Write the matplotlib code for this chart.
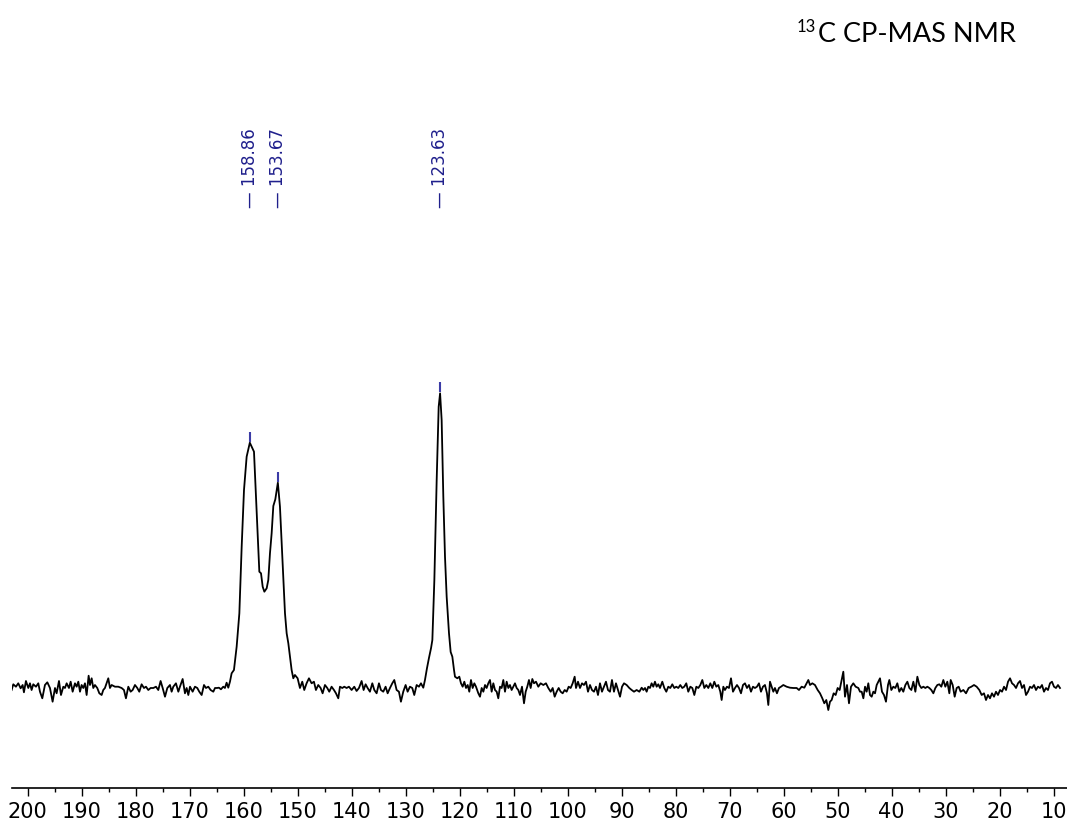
import numpy as np
import matplotlib.pyplot as plt
from matplotlib.ticker import MultipleLocator

# chemical shift (ppm) and intensity
shift = [202.97, 202.66, 202.17, 201.74, 201.3, 200.93, 200.69, 200.32, 199.88, 199.57,
         199.27, 198.96, 198.46, 198.03, 197.72, 197.29, 196.8, 196.36, 195.87, 195.38,
         194.94, 194.64, 194.2, 193.83, 193.4, 193.09, 192.78, 192.35, 192.04, 191.67,
         191.24, 190.93, 190.62, 190.31, 190.01, 189.7, 189.39, 189.08, 188.71, 188.46,
         188.15, 187.85, 187.54, 187.11, 186.73, 186.3, 186.0, 185.69, 185.38, 185.07,
         184.76, 184.45, 183.83, 183.22, 182.6, 182.17, 181.8, 181.36, 180.93, 180.56,
         180.13, 179.7, 179.33, 178.9, 178.46, 178.09, 177.66, 177.23, 176.73, 176.24,
         175.81, 175.38, 175.0, 174.57, 174.14, 173.65, 173.34, 173.03, 172.54, 172.1,
         171.8, 171.3, 170.87, 170.56, 170.25, 169.94, 169.45, 169.02, 168.59, 168.22,
         167.78, 167.35, 166.98, 166.55, 166.12, 165.62, 165.31, 164.95, 164.58, 164.21,
         163.78, 163.47, 163.16, 162.85, 162.54, 162.23, 161.8, 161.3, 160.8, 160.37,
         159.94, 159.45, 158.86, 158.52, 158.09, 157.72, 157.29, 157.1, 156.79, 156.48,
         156.17, 155.74, 155.44, 155.13, 154.82, 154.51, 154.14, 153.67, 153.28, 152.78,
         152.35, 152.04, 151.73, 151.42, 151.12, 150.81, 150.51, 150.01, 149.58, 149.15,
         148.78, 148.35, 147.91, 147.42, 146.99, 146.62, 146.19, 145.75, 145.38, 144.95,
         144.52, 144.15, 143.72, 143.28, 142.91, 142.48, 142.17, 141.74, 141.37, 140.94,
         140.51, 140.01, 139.52, 139.09, 138.65, 138.16, 137.79, 137.42, 137.05, 136.62,
         136.18, 135.81, 135.38, 134.95, 134.58, 134.15, 133.72, 133.34, 132.91, 132.48,
         132.11, 131.68, 131.25, 130.88, 130.45, 130.01, 129.64, 129.21, 128.78, 128.41,
         127.97, 127.54, 127.17, 126.74, 126.43, 126.06, 125.69, 125.3, 125.06, 124.69,
         124.26, 123.89, 123.63, 123.34, 123.03, 122.72, 122.41, 121.98, 121.67, 121.36,
         121.05, 120.87, 120.44, 120.07, 119.76, 119.45, 119.14, 118.83, 118.52, 118.22,
         117.91, 117.6, 117.29, 116.98, 116.55, 116.24, 115.93, 115.62, 115.31, 115.01,
         114.7, 114.39, 114.08, 113.77, 113.46, 113.15, 112.85, 112.54, 112.23, 111.92,
         111.61, 111.3, 110.99, 110.69, 110.38, 110.07, 109.76, 109.45, 109.14, 108.83,
         108.46, 108.09, 107.78, 107.48, 107.17, 106.86, 106.55, 106.24, 105.87, 105.44,
         105.01, 104.51, 104.02, 103.59, 103.15, 102.78, 102.41, 102.04, 101.67, 101.3,
         100.93, 100.56, 100.19, 99.82, 99.45, 99.08, 98.71, 98.46, 98.09, 97.72,
         97.35, 96.98, 96.61, 96.24, 95.87, 95.5, 95.13, 94.76, 94.39, 94.02,
         93.65, 93.28, 92.91, 92.54, 92.17, 91.8, 91.43, 91.06, 90.69, 90.31,
         89.94, 89.57, 89.08, 88.59, 88.15, 87.72, 87.23, 86.73, 86.3, 85.99,
         85.68, 85.38, 85.07, 84.76, 84.46, 84.15, 83.84, 83.53, 83.22, 82.91,
         82.48, 82.11, 81.74, 81.37, 81.0, 80.63, 80.26, 79.89, 79.52, 79.15,
         78.78, 78.41, 78.04, 77.67, 77.29, 76.92, 76.55, 76.18, 75.81, 75.44,
         75.07, 74.7, 74.33, 73.96, 73.59, 73.22, 72.85, 72.48, 72.11, 71.74,
         71.49, 71.18, 70.88, 70.51, 70.13, 69.76, 69.39, 69.02, 68.65, 68.28,
         67.91, 67.54, 67.17, 66.8, 66.43, 66.06, 65.69, 65.32, 64.95, 64.58,
         64.21, 63.84, 63.47, 63.1, 62.85, 62.54, 62.23, 61.92, 61.62, 61.25,
         60.88, 60.5, 60.07, 59.46, 58.84, 58.22, 57.6, 57.17, 56.68, 56.18,
         55.75, 55.44, 55.13, 54.7, 54.21, 53.71, 53.28, 52.85, 52.48, 52.11,
         51.74, 51.43, 51.12, 50.75, 50.38, 50.01, 49.64, 49.27, 48.96, 48.65,
         48.28, 47.91, 47.54, 47.11, 46.68, 46.18, 45.87, 45.56, 45.25, 44.94,
         44.64, 44.33, 44.02, 43.71, 43.4, 43.09, 42.78, 42.48, 42.17, 41.8,
         41.43, 41.06, 40.69, 40.44, 40.07, 39.7, 39.33, 38.96, 38.59, 38.22,
         37.85, 37.47, 37.1, 36.73, 36.36, 35.99, 35.62, 35.25, 34.88, 34.51,
         34.14, 33.77, 33.4, 33.03, 32.66, 32.29, 31.92, 31.55, 31.18, 30.81,
         30.44, 30.07, 29.7, 29.33, 29.08, 28.71, 28.34, 27.97, 27.6, 27.23,
         26.73, 26.24, 25.75, 25.25, 24.76, 24.27, 23.77, 23.34, 22.91, 22.54,
         22.17, 21.8, 21.43, 21.06, 20.69, 20.32, 19.94, 19.57, 19.2, 18.83,
         18.46, 18.09, 17.72, 17.35, 16.98, 16.61, 16.24, 15.87, 15.5, 15.13,
         14.76, 14.39, 14.02, 13.65, 13.28, 12.91, 12.54, 12.17, 11.8, 11.43,
         11.06, 10.69, 10.32, 9.95, 9.58, 9.21, 8.84]

intensity = [-2, 3.7, 1.3, 4.7, -0.3, 3, -4.3, 7, 0, 4.7,
             -2, 3.7, 1.3, 4.7, -3.7, -10.3, 3, 5.7, 0, -13.7,
             0, -5.3, 7, -7, 1.3, 0, 4.7, 0, 6.3, -3.7,
             4.7, 1.3, 6.3, -3.7, 3, 0, 4.7, -7, 12.3, 3,
             9.7, 0, 3, 0, -5.3, -7, -2, 0, 4.7, 9.7,
             0, 3, 1.3, 1.3, 0, -2, -10.3, 1.3, -3.7, -2,
             3, 0, -3.7, 3.7, 0, 1.3, -2, 0, 0, 1.3,
             -2, 7, 0, -8.7, 0, 3, -3.7, 1.3, 4.7, -3.7,
             1.3, 9, -5.3, 0, -7, 1.3, -3.7, 1.3, 0, -3.7,
             -7, 3, 0, 1.3, -2, -3.7, 0, 0, 0.3, -1.3,
             1.3, 0, 5.3, 0.3, 6.3, 14.7, 18, 41.3, 74.7, 141.3,
             198, 231.3, 245.3, 241.3, 236.3, 191.3, 141.3, 116.3, 114.7, 101.3,
             96.3, 99.7, 108, 134.7, 154.7, 182, 188.7, 205.3, 181.3, 124.7,
             74.7, 54.7, 44.7, 31.3, 18, 9.7, 13, 9.7, 0, 6.3,
             -2, 4.7, 9.7, 4.7, 6.3, -2, 3, 0, -5.3, 3,
             0, -3.7, 1.3, -2, -5.3, -10.3, 1.3, 0, 1.3, 0,
             1.3, -2, 1.3, -3, 0, 7, -2, 3.7, 0, -3.7,
             4.7, -2, -5.3, 4.7, -2, -3.7, 1.3, -5.3, 0, 4.7,
             8, -2, -3.7, -13.7, -3.7, 3, -3.7, 1.3, 0, -7,
             3, 1.3, 4.7, 0.3, 8, 19.7, 30, 40, 48, 108,
             208, 281.3, 294.7, 268, 191.3, 131.3, 91.3, 54.7, 36, 31.3,
             18, 11.3, 9.7, 11.3, 4.7, 1.3, 6.3, 0, 3, -3.7,
             8, 0, 4.7, 1.3, -5.3, -8.7, 0, -3.7, 3, 0,
             4.7, 8, -3.7, 4.7, -2, -3.7, -10.3, 1.3, 0, 8,
             -3.7, 6.3, 0, 3, -2, 1.3, 4.7, 0, -2, -7,
             1.3, -15.3, -3.7, 1.3, 8, 0, 9, 4.7, 6.3, 1.3,
             4.7, 3, 4.7, 0, -3.7, 0, -8.7, -3.7, 0, -3.7,
             -5.3, -2, -3.7, 1.3, 0, 4.7, 11.3, 0, 6.3, 0,
             4.7, 3, 6.3, -3.7, 3, -2, -3.7, 1.3, -7, 4.7,
             -3.7, 1.3, 6.3, -2, -3.7, 8, -3.7, 4.7, -2, -8.7,
             1.3, 4.7, 3, 0, -2, -3.7, -2, -3.7, 0.3, -2,
             0, -3.7, 1.3, 0, 4.7, 1.3, 6.3, 1.3, 3.7, 0,
             6.3, 0, -3.7, 1.3, 0, 3.7, 0, 1.3, 0, 3,
             0, 1.3, 4.7, -3.7, 1.3, 0, -7, 1.3, 0, 3,
             8, 0, 3, 0, 4.7, 0, 6.3, 1.3, 3, -3.7,
             -12, 1.3, -2, 1.3, 0, 9.7, -3.7, 0, 3, 0,
             -5.3, 3, 4.7, 0, 3, -3.7, 1.3, 0, 1.3, 4.7,
             -3.7, 1.3, 3, -5.3, -17, 6.3, 1.3, -3.7, 0, -5.3,
             0, 1.3, 3, 1.3, 0.3, 0, 0, -2, 1.3, 0.3,
             4.7, 8, 3, 4.7, 3, -2, -5.3, -10.3, -15.3, -12,
             -22, -13.7, -12, -5.3, -7, 0, -2, 8, 16.3, -8.7,
             3, -15.3, 1.3, 4.7, 1.3, 0, -3.7, -3.7, -10.3, 1.3,
             -3.7, 4.7, -7, -8.7, -3.7, -5.3, 3, 6.3, 9.7, -3.7,
             -7, -13.7, 3, 8, -2, 1.3, 0, 4.7, -3.7, 0,
             -3.7, 3, 6.3, 0, -2, 6.3, -3.7, 11.3, 3, 0,
             1.3, 0, 1.3, 0, -2, -5.3, 0, 3, 3.7, 1.3,
             8, 1.3, 6.3, -5.3, 8, 3, -8.7, 0, 1.3, -3.7,
             -2, -5.3, 0, 1.3, 3, 1.3, -2, -7, -5.3, -12,
             -7, -10.3, -5.3, -8.7, -3.7, -7, -2, -3.7, 1.3, -2,
             6.3, 9.7, 4.7, 3, 0, 4.7, 7, 0, 3, -7,
             -3.7, 1.3, 0, 3, -2, 1.3, 0, 3, -3.7, 0,
             -2, 4.7, 6.3, 1.3, 0, 3, 0]

peak_shifts = [158.86, 153.67, 123.63]
peak_heights = [245, 205, 295]
peak_labels = ['158.86', '153.67', '123.63']

fig = plt.figure(figsize=(10.67, 8.23), dpi=100)
ax = fig.add_axes([12 / 1067, 35 / 823, 1055 / 1067, 788 / 823])

ax.plot(shift, intensity, color='black', lw=1.3)

# peak picking marks and labels
ax.vlines(peak_shifts, np.array(peak_heights) + 1, np.array(peak_heights) + 11,
          color='#3b3ba6', lw=1.5)
for s, lab in zip(peak_shifts, peak_labels):
    ax.text(s, 480, '\u2014 ' + lab, rotation=90, ha='center', va='bottom',
            color='#1f1f8c', fontsize=12)

ax.set_xlim(202.9, 7.54)
ax.set_ylim(-100, 688)
for side in ['top', 'left', 'right']:
    ax.spines[side].set_visible(False)
ax.spines['bottom'].set_linewidth(1.2)
ax.set_yticks([])
ax.xaxis.set_major_locator(MultipleLocator(10))
ax.xaxis.set_minor_locator(MultipleLocator(5))
ax.tick_params(axis='x', which='major', length=6, width=1.0, labelsize=15, pad=4)
ax.tick_params(axis='x', which='minor', length=3, width=1.0)

fig.text(818 / 1067, 1 - 42 / 823, 'C CP-MAS NMR', fontsize=19.5, family='Lato',
         ha='left', va='baseline')
fig.text(816 / 1067, 1 - 32 / 823, '13', fontsize=12, family='Lato',
         ha='right', va='baseline')

fig.savefig('out.png', dpi=100)
